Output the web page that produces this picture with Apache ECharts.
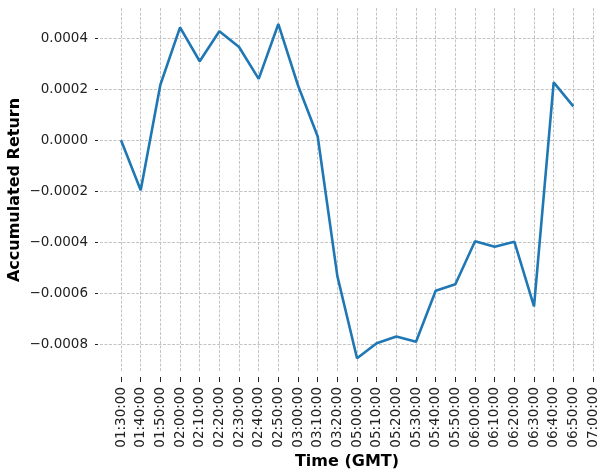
<!DOCTYPE html>
<html>
<head>
<meta charset="utf-8">
<script src="https://cdn.jsdelivr.net/npm/echarts@6/dist/echarts.min.js"></script>
<style>
  html, body { margin: 0; padding: 0; background: #fff; }
  #chart { width: 604px; height: 475px; }
</style>
</head>
<body>
<div id="chart"></div>
<script>
// time buckets on the x axis (07:00:00 has no value)
const categories = ['01:30:00', '01:40:00', '01:50:00', '02:00:00', '02:10:00', '02:20:00',
    '02:30:00', '02:40:00', '02:50:00', '03:00:00', '03:10:00', '03:20:00', '05:00:00',
    '05:10:00', '05:20:00', '05:30:00', '05:40:00', '05:50:00', '06:00:00', '06:10:00',
    '06:20:00', '06:30:00', '06:40:00', '06:50:00', '07:00:00']
// accumulated return
const returns = [0.0000, -0.000196, 0.000218, 0.000443, 0.000310, 0.000428, 0.000366,
    0.000241, 0.000456, 0.000215, 0.000015, -0.000533, -0.000855, -0.000796, -0.000770,
    -0.000790, -0.000590, -0.000565, -0.000396, -0.000418, -0.000398, -0.000652,
    0.000227, 0.000133]
const yTicks = [-0.0008, -0.0006, -0.0004, -0.0002, 0, 0.0002, 0.0004]
const xTicks = categories.map((c, i) => i)

const font = 'DejaVu Sans'
const gridLine = { show: true, lineStyle: { color: '#b5b5b5', width: 0.8, type: [3, 1.5] } }

const myChart = echarts.init(document.getElementById('chart'))
const option = {
    animation: false,
    grid: { left: 100, right: 10, top: 8, bottom: 103, containLabel: false, outerBoundsMode: 'none' },
    xAxis: {
        type: 'value',
        min: -1.07,
        max: 24.05,
        offset: 5,
        name: 'Time (GMT)',
        nameLocation: 'middle',
        nameGap: 77,
        nameMoveOverlap: false,
        nameTextStyle: { fontFamily: font, fontSize: 16, fontWeight: 'bold', color: '#000' },
        axisLine: { show: false, onZero: false },
        axisTick: { show: true, length: 5, customValues: xTicks, lineStyle: { color: '#222' } },
        axisLabel: {
            customValues: xTicks,
            rotate: 90,
            margin: 10,
            fontFamily: font,
            fontSize: 13.5,
            color: '#222',
            formatter: v => categories[Math.round(v)] || ''
        },
        splitLine: Object.assign({ customValues: xTicks }, gridLine)
    },
    yAxis: {
        type: 'value',
        min: -0.000909,
        max: 0.000519,
        offset: 2,
        name: 'Accumulated Return',
        nameLocation: 'middle',
        nameGap: 75,
        nameMoveOverlap: false,
        nameTextStyle: { fontFamily: font, fontSize: 16, fontWeight: 'bold', color: '#000' },
        axisLine: { show: false, onZero: false },
        axisTick: { show: true, length: 3, customValues: yTicks, lineStyle: { color: '#222' } },
        axisLabel: {
            customValues: yTicks,
            margin: 10,
            fontFamily: font,
            fontSize: 13.5,
            color: '#222',
            formatter: v => (v < -1e-12 ? '\u2212' : '') + Math.abs(v).toFixed(4)
        },
        splitLine: Object.assign({ customValues: yTicks }, gridLine)
    },
    series: [
        {
            type: 'line',
            symbol: 'none',
            lineStyle: { color: '#1f77b4', width: 2.6 },
            data: returns.map((v, i) => [i, v])
        }
    ]
}
myChart.setOption(option)
</script>
</body>
</html>
